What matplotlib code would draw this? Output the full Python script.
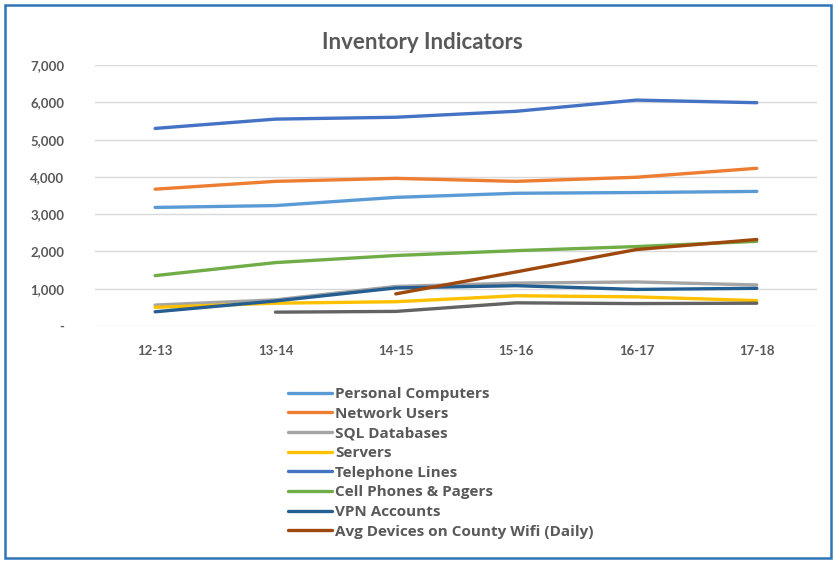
"""Inventory Indicators line chart (Excel-style) -> out.png"""
import matplotlib
matplotlib.use('Agg')
import matplotlib.pyplot as plt
import numpy as np
from matplotlib.patches import Rectangle

plt.rcParams['font.family'] = ['Lato', 'DejaVu Sans']

YEARS = ['12-13', '13-14', '14-15', '15-16', '16-17', '17-18']
nan = np.nan

personal_computers = [3180, 3230, 3450, 3560, 3580, 3610]
network_users = [3670, 3880, 3960, 3880, 3990, 4230]
sql_databases = [560, 700, 1060, 1150, 1180, 1100]
servers = [500, 610, 650, 810, 780, 680]
telephone_lines = [5300, 5550, 5600, 5760, 6060, 5990]
cell_phones = [1350, 1700, 1890, 2020, 2130, 2270]
vpn_accounts = [380, 670, 1020, 1080, 980, 1010]
wifi_devices = [nan, nan, 860, 1450, 2050, 2320]
unlisted = [nan, 370, 390, 620, 600, 610]  # 9th series, its legend entry is cut off

SERIES = [
    ('Personal Computers', personal_computers, '#5B9BD5'),
    ('Network Users', network_users, '#ED7D31'),
    ('SQL Databases', sql_databases, '#A5A5A5'),
    ('Servers', servers, '#FFC000'),
    ('Telephone Lines', telephone_lines, '#4472C4'),
    ('Cell Phones & Pagers', cell_phones, '#70AD47'),
    ('VPN Accounts', vpn_accounts, '#255E91'),
    ('Avg Devices on County Wifi (Daily)', wifi_devices, '#9E480E'),
    ('_nolegend_', unlisted, '#636363'),
]

TXT = '#595959'

fig = plt.figure(figsize=(8.36, 5.61), dpi=100)
ax = fig.add_axes([0.1136, 0.419, 0.8636, 0.465])

x = np.arange(len(YEARS))
for label, vals, color in SERIES:
    ax.plot(x, vals, color=color, lw=2.4, label=label, solid_capstyle='round')

ax.set_xlim(-0.5, len(YEARS) - 0.5)
ax.set_ylim(0, 7000)
ax.set_yticks(range(0, 7001, 1000))
ax.set_yticklabels(['-'] + [f'{v:,}' for v in range(1000, 7001, 1000)])
ax.set_xticks(x)
ax.set_xticklabels(YEARS)
ax.tick_params(axis='y', length=0, pad=22, labelsize=9.5, colors=TXT)
ax.tick_params(axis='x', length=0, pad=14, labelsize=9.5, colors=TXT)
for lab in ax.get_xticklabels() + ax.get_yticklabels():
    lab.set_fontweight('bold')
ax.grid(True, axis='y', color='#D9D9D9', lw=1)
ax.set_axisbelow(True)
for s in ax.spines.values():
    s.set_visible(False)

fig.text(0.505, 0.925, 'Inventory Indicators', ha='center', va='center',
         fontsize=16, fontweight='bold', color=TXT)

handles, labels = ax.get_legend_handles_labels()
leg = fig.legend(handles, labels, loc='upper left', bbox_to_anchor=(0.3445, 0.31),
                 frameon=False, prop={'family': 'Open Sans', 'size': 11, 'weight': 'bold'},
                 handlelength=2.9, handletextpad=0.2,
                 labelspacing=0.37, borderaxespad=0, borderpad=0)
for t in leg.get_texts():
    t.set_color(TXT)

fig.patches.append(Rectangle((0.006, 0.006), 0.988, 0.985, transform=fig.transFigure,
                             fill=False, edgecolor='#2E75B6', lw=1.8))

fig.savefig('out.png', dpi=100)
